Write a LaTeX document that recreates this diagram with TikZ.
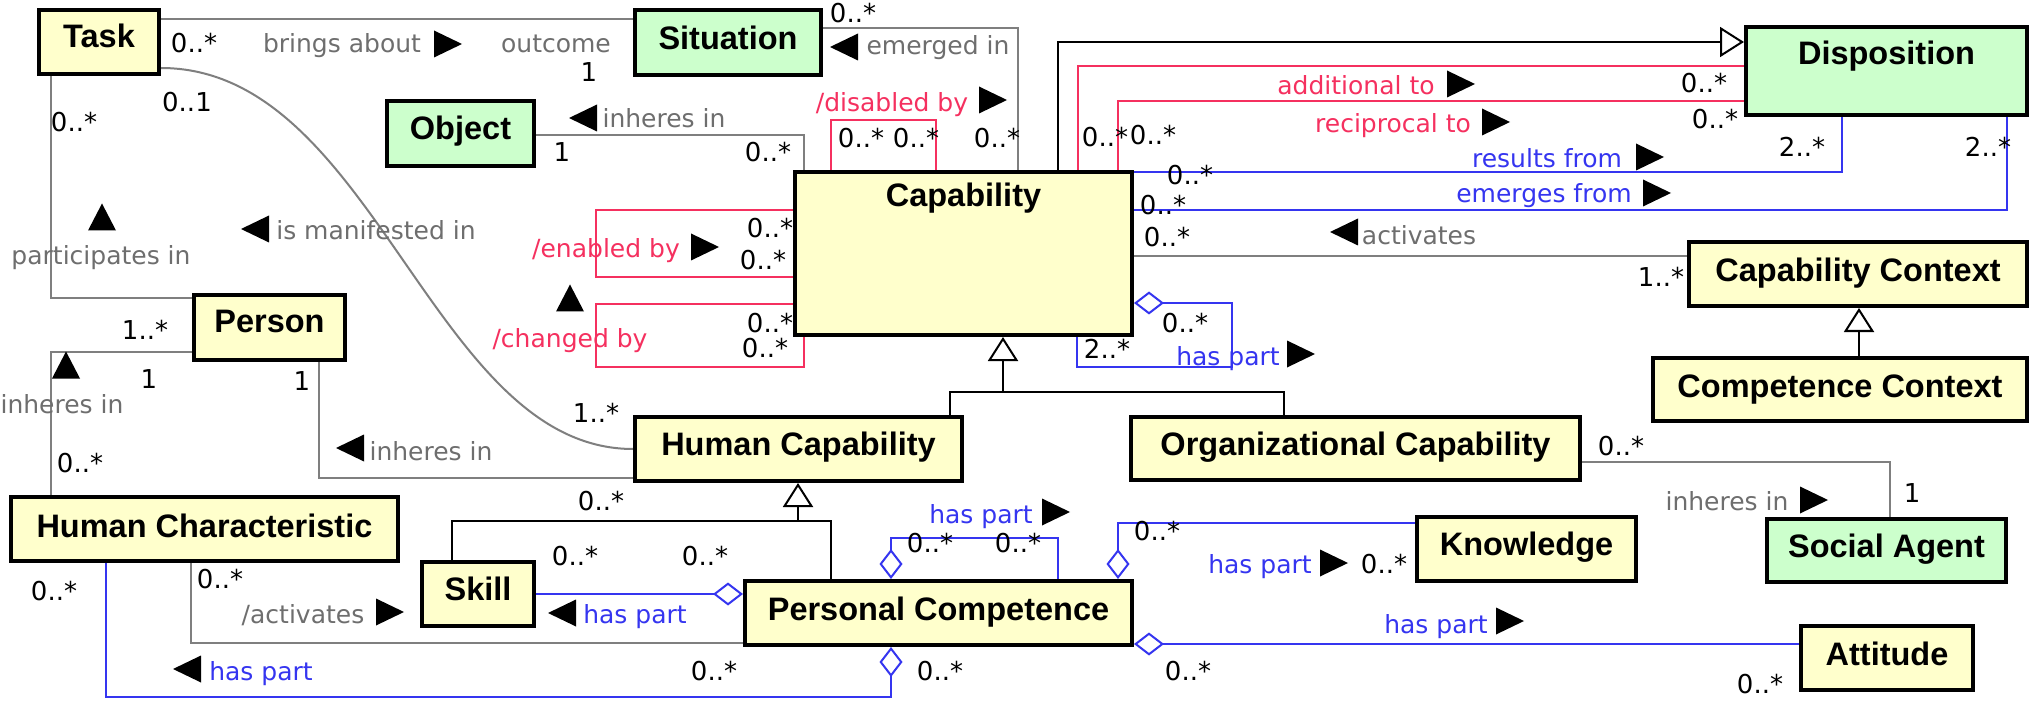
\documentclass[tikz,border=0pt]{standalone}
\usepackage{fontspec}
\setmainfont{DejaVu Sans}
\newfontfamily\clsfont{Liberation Sans}
\usetikzlibrary{arrows.meta,backgrounds}
\definecolor{clsyellow}{HTML}{FFFFCC}
\definecolor{clsgreen}{HTML}{CCFFCC}
\definecolor{lgray}{HTML}{7F7F7F}
\definecolor{tgray}{HTML}{6E6E6E}
\definecolor{ured}{HTML}{F5305F}
\definecolor{ublue}{HTML}{3535F0}
\begin{document}
\begin{tikzpicture}[x=1pt,y=-1pt,
  cls/.style={draw=black, line width=4pt, inner sep=0pt},
  ycls/.style={cls, fill=clsyellow},
  gcls/.style={cls, fill=clsgreen},
  cname/.style={font=\clsfont\bfseries\fontsize{32.5}{36}\selectfont, inner sep=0pt, anchor=base},
  txt/.style={inner sep=0pt, anchor=base},
  glbl/.style={txt, text=tgray, font=\fontsize{25}{30}\selectfont},
  rlbl/.style={txt, text=ured, font=\fontsize{25}{30}\selectfont},
  blbl/.style={txt, text=ublue, font=\fontsize{25}{30}\selectfont},
  mult/.style={txt, text=black, font=\fontsize{26}{30}\selectfont},
  gassoc/.style={draw=lgray, line width=2pt},
  rassoc/.style={draw=ured, line width=2pt},
  bassoc/.style={draw=ublue, line width=2pt},
  genline/.style={draw=black, line width=2pt},
  gen/.style={genline, arrows={-{Triangle[open, fill=white, length=24pt, width=30pt]}}},
  diam/.style={arrows={{Diamond[open, fill=white, length=30pt, width=23pt]}-}},
  rtri/.pic={\fill (-14,-13.5) -- (14,0) -- (-14,13.5) -- cycle;},
  ltri/.pic={\fill (14,-13.5) -- (-14,0) -- (14,13.5) -- cycle;},
  utri/.pic={\fill (-14,13.5) -- (0,-13.5) -- (14,13.5) -- cycle;}
]
\useasboundingbox (0,0) rectangle (2032,703);

% ---------- classes ----------
\node[ycls, minimum width=120pt, minimum height=64pt] (task) at (99,42) {};
\node[gcls, minimum width=186pt, minimum height=65pt] (situation) at (728,42.5) {};
\node[gcls, minimum width=147pt, minimum height=65pt] (object) at (460.5,133.5) {};
\node[ycls, minimum width=337pt, minimum height=163pt] (capability) at (963.5,253.5) {};
\node[gcls, minimum width=281pt, minimum height=88pt] (disposition) at (1886.5,71) {};
\node[ycls, minimum width=338pt, minimum height=64pt] (capctx) at (1858,274) {};
\node[ycls, minimum width=374pt, minimum height=63pt] (compctx) at (1840,389.5) {};
\node[ycls, minimum width=151pt, minimum height=65pt] (person) at (269.5,327.5) {};
\node[ycls, minimum width=327pt, minimum height=64pt] (humcap) at (798.5,449) {};
\node[ycls, minimum width=449pt, minimum height=63pt] (orgcap) at (1355.5,448.5) {};
\node[ycls, minimum width=387pt, minimum height=64pt] (humchar) at (204.5,529) {};
\node[ycls, minimum width=112pt, minimum height=64pt] (skill) at (478,594) {};
\node[ycls, minimum width=387pt, minimum height=64pt] (perscomp) at (938.5,613) {};
\node[ycls, minimum width=219pt, minimum height=64pt] (knowledge) at (1526.5,549) {};
\node[gcls, minimum width=239pt, minimum height=63pt] (socagent) at (1886.5,550.5) {};
\node[ycls, minimum width=172pt, minimum height=64pt] (attitude) at (1887,658) {};

\node[cname] (task-t) at (99,48) {Task};
\node[cname] (situation-t) at (728,50) {Situation};
\node[cname] (object-t) at (460.5,140) {Object};
\node[cname] (capability-t) at (963.5,207) {Capability};
\node[cname] (disposition-t) at (1886.5,65) {Disposition};
\node[cname] (capctx-t) at (1858,282) {Capability Context};
\node[cname] (compctx-t) at (1840,397) {Competence Context};
\node[cname] (person-t) at (269.5,333) {Person};
\node[cname] (humcap-t) at (798.5,455) {Human Capability};
\node[cname] (orgcap-t) at (1355.5,455) {Organizational Capability};
\node[cname] (humchar-t) at (204.5,537) {Human Characteristic};
\node[cname] (skill-t) at (478,600) {Skill};
\node[cname] (perscomp-t) at (938.5,620) {Personal Competence};
\node[cname] (knowledge-t) at (1526.5,555) {Knowledge};
\node[cname] (socagent-t) at (1886.5,557) {Social Agent};
\node[cname] (attitude-t) at (1887,665) {Attitude};

% ---------- connectors ----------
\begin{scope}[on background layer]
\fill[white] (0,0) rectangle (2032,703);
% gray associations
\draw[gassoc] (task.east |- 0,19) -- (situation.west |- 0,19);
\draw[gassoc] (situation.east |- 0,28) -| (1018,0 |- capability.north);
\draw[gassoc] (object.east |- 0,135) -| (804,0 |- capability.north);
\draw[gassoc] (capability.east |- 0,256) -- (capctx.west |- 0,256);
\draw[gassoc] (orgcap.east |- 0,462) -| (1890,0 |- socagent.north);
\draw[gassoc] (task.east |- 0,68) .. controls (375,68) and (432,449) .. (humcap.west |- 0,449);
\draw[gassoc] (51,0 |- task.south) |- (person.west |- 0,298);
\draw[gassoc] (51,0 |- humchar.north) |- (person.west |- 0,352);
\draw[gassoc] (319,0 |- person.south) |- (humcap.west |- 0,478);
\draw[gassoc] (191,0 |- humchar.south) |- (perscomp.west |- 0,643);
% red associations
\draw[rassoc] (831,0 |- capability.north) -- (831,120) -- (936,120) -- (936,0 |- capability.north);
\draw[rassoc] (capability.west |- 0,210) -- (596,210) -- (596,277) -- (capability.west |- 0,277);
\draw[rassoc] (capability.west |- 0,304) -- (596,304) -- (596,367) -- (804,367) -- (804,0 |- capability.south);
\draw[rassoc] (1078,0 |- capability.north) |- (disposition.west |- 0,66);
\draw[rassoc] (1118,0 |- capability.north) |- (disposition.west |- 0,101);
% blue associations
\draw[bassoc] (capability.east |- 0,172) -| (1842,0 |- disposition.south);
\draw[bassoc] (capability.east |- 0,210) -| (2007,0 |- disposition.south);
\draw[bassoc, diam] (capability.east |- 0,303) -- (1232,303) -- (1232,367) -- (1077,367) -- (1077,0 |- capability.south);
\draw[bassoc, diam] (perscomp.west |- 0,594) -- (skill.east |- 0,594);
\draw[bassoc, diam] (891,0 |- perscomp.south) -- (891,697) -- (106,697) -- (106,0 |- humchar.south);
\draw[bassoc, diam] (891,0 |- perscomp.north) -- (891,538) -- (1058,538) -- (1058,0 |- perscomp.north);
\draw[bassoc, diam] (1118,0 |- perscomp.north) |- (knowledge.west |- 0,523);
\draw[bassoc, diam] (perscomp.east |- 0,644) -- (attitude.west |- 0,644);
% generalizations
\draw[gen] (1058,0 |- capability.north) |- (disposition.west |- 0,42);
\draw[gen] (950,0 |- humcap.north) |- (1003,392) -- (1003,0 |- capability.south);
\draw[genline] (1284,0 |- orgcap.north) |- (1003,392);
\draw[gen] (1859,0 |- compctx.north) -- (1859,0 |- capctx.south);
\draw[gen] (452,0 |- skill.north) |- (798,521) -- (798,0 |- humcap.south);
\draw[genline] (831,0 |- perscomp.north) |- (798,521);
\end{scope}

% ---------- association labels ----------
\node[glbl] (l1) at (342,53) {brings about};
\node[glbl] (l2) at (556,53) {outcome};
\node[glbl] (l3) at (938,55) {emerged in};
\node[glbl] (l4) at (664,128) {inheres in};
\node[glbl] (l5) at (376,240) {is manifested in};
\node[glbl] (l6) at (101,265) {participates in};
\node[glbl] (l7) at (62,413) {inheres in};
\node[glbl] (l8) at (431,460) {inheres in};
\node[glbl] (l9) at (1419,245) {activates};
\node[glbl] (l10) at (1727,510) {inheres in};
\node[glbl] (l11) at (303,623) {/activates};
\node[rlbl] (l12) at (892,112) {/disabled by};
\node[rlbl] (l13) at (606,258) {/enabled by};
\node[rlbl] (l14) at (570,347) {/changed by};
\node[rlbl] (l15) at (1356,95) {additional to};
\node[rlbl] (l16) at (1393,133) {reciprocal to};
\node[blbl] (l17) at (1547,168) {results from};
\node[blbl] (l18) at (1544,203) {emerges from};
\node[blbl] (l19) at (1228,365) {has part};
\node[blbl] (l20) at (635,623) {has part};
\node[blbl] (l21) at (261,680) {has part};
\node[blbl] (l22) at (981,523) {has part};
\node[blbl] (l23) at (1260,573) {has part};
\node[blbl] (l24) at (1436,633) {has part};

% direction triangles
\pic at (448,44) {rtri};
\pic at (844,47) {ltri};
\pic at (583,118) {ltri};
\pic at (993,100) {rtri};
\pic at (705,247) {rtri};
\pic at (570,298) {utri};
\pic at (1461,84) {rtri};
\pic at (1496,122) {rtri};
\pic at (1650,157) {rtri};
\pic at (1657,193) {rtri};
\pic at (1344,232) {ltri};
\pic at (1301,354) {rtri};
\pic at (1814,500) {rtri};
\pic at (255,229) {ltri};
\pic at (102,217) {utri};
\pic at (66,365) {utri};
\pic at (350,448) {ltri};
\pic at (562,613) {ltri};
\pic at (390,612) {rtri};
\pic at (187,669) {ltri};
\pic at (1056,512) {rtri};
\pic at (1334,563) {rtri};
\pic at (1510,621) {rtri};

% ---------- multiplicities ----------
\node[mult] (m1) at (194,53) {0..*};
\node[mult] (m2) at (589,82) {1};
\node[mult] (m3) at (853,23) {0..*};
\node[mult] (m4) at (997,148) {0..*};
\node[mult] (m5) at (562,162) {1};
\node[mult] (m6) at (768,162) {0..*};
\node[mult] (m7) at (861,148) {0..*};
\node[mult] (m8) at (916,148) {0..*};
\node[mult] (m9) at (770,238) {0..*};
\node[mult] (m10) at (763,270) {0..*};
\node[mult] (m11) at (770,332) {0..*};
\node[mult] (m12) at (765,357) {0..*};
\node[mult] (m13) at (1704,93) {0..*};
\node[mult] (m14) at (1105,147) {0..*};
\node[mult] (m15) at (1715,129) {0..*};
\node[mult] (m16) at (1153,145) {0..*};
\node[mult] (m17) at (1802,157) {2..*};
\node[mult] (m18) at (1190,185) {0..*};
\node[mult] (m19) at (1988,157) {2..*};
\node[mult] (m20) at (1163,215) {0..*};
\node[mult] (m21) at (1661,287) {1..*};
\node[mult] (m22) at (1167,247) {0..*};
\node[mult] (m23) at (1185,333) {0..*};
\node[mult] (m24) at (1107,358) {2..*};
\node[mult] (m25) at (1621,455) {0..*};
\node[mult] (m26) at (1912,502) {1};
\node[mult] (m27) at (187,112) {0..1};
\node[mult] (m28) at (596,422) {1..*};
\node[mult] (m29) at (74,132) {0..*};
\node[mult] (m30) at (145,340) {1..*};
\node[mult] (m31) at (149,388) {1};
\node[mult] (m32) at (80,472) {0..*};
\node[mult] (m33) at (302,390) {1};
\node[mult] (m34) at (601,510) {0..*};
\node[mult] (m35) at (575,565) {0..*};
\node[mult] (m36) at (705,565) {0..*};
\node[mult] (m37) at (220,588) {0..*};
\node[mult] (m38) at (714,680) {0..*};
\node[mult] (m39) at (54,600) {0..*};
\node[mult] (m40) at (940,680) {0..*};
\node[mult] (m41) at (930,552) {0..*};
\node[mult] (m42) at (1018,552) {0..*};
\node[mult] (m43) at (1157,540) {0..*};
\node[mult] (m44) at (1384,573) {0..*};
\node[mult] (m45) at (1188,680) {0..*};
\node[mult] (m46) at (1760,693) {0..*};
\end{tikzpicture}
\end{document}
